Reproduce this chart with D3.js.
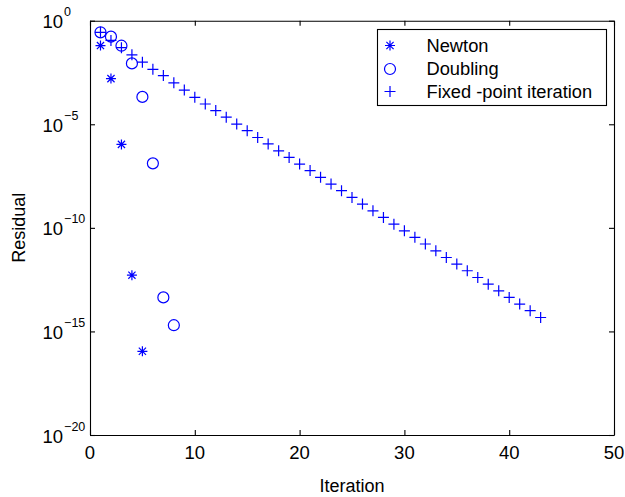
<!DOCTYPE html>
<html><head><meta charset="utf-8">
<script src="https://cdn.jsdelivr.net/npm/d3@7"></script>
<style>body{margin:0;background:#fff}svg{display:block}text{font-family:"Liberation Sans",Arial,sans-serif}</style>
</head><body>
<svg id="c" width="625" height="497"></svg>
<script>
const newtonIter = [1,2,3,4,5];
const newtonRes = [6.3e-2, 1.6e-3, 1.07e-6, 5.2e-13, 1.1e-16];
const doublingIter = [1,2,3,4,5,6,7,8];
const doublingRes = [2.75e-1, 1.7e-1, 6.2e-2, 8.7e-3, 2.1e-4, 1.3e-7, 4.4e-14, 2.0e-15];
const fixedIter = d3.range(1,44);
const fixedRes = [2.75e-1,1.12e-1,5.0e-2,2.24e-2,1.0e-2,4.47e-3,2.24e-3,1.0e-3,4.47e-4,2.0e-4,
  9.5e-5,4.6e-5,2.2e-5,1.02e-5,4.9e-6,2.3e-6,1.12e-6,5.2e-7,2.5e-7,1.2e-7,
  5.8e-8,2.75e-8,1.3e-8,6.2e-9,2.95e-9,1.4e-9,6.6e-10,3.2e-10,1.5e-10,7.2e-11,
  3.5e-11,1.66e-11,7.8e-12,3.7e-12,1.78e-12,8.5e-13,4.0e-13,1.9e-13,9.1e-14,4.4e-14,
  2.1e-14,1.0e-14,4.7e-15];
const xTicks = [0,10,20,30,40,50];
const yTickExp = [0,-5,-10,-15,-20];
const seriesNames = ["Newton","Doubling","Fixed -point iteration"];

const L=90,R=614,T=20.7,B=435;
const svg=d3.select("#c");
const x=d3.scaleLinear().domain([0,50]).range([L,R]);
const y=d3.scaleLog().domain([1e-20,1]).range([B,T]);
const blue="#0000ff";
const ink="#000";

const yTickVals=yTickExp.map(e=>Math.pow(10,e));
function styleAxis(g){g.selectAll("path,line").attr("stroke","#000").attr("stroke-width",1.1);g.selectAll("text").remove();}
svg.append("g").attr("transform",`translate(0,${B})`).call(d3.axisBottom(x).tickValues(xTicks).tickSizeInner(-5).tickSizeOuter(0)).call(styleAxis);
svg.append("g").attr("transform",`translate(0,${T})`).call(d3.axisTop(x).tickValues(xTicks).tickSizeInner(-5).tickSizeOuter(0)).call(styleAxis);
svg.append("g").attr("transform",`translate(${L},0)`).call(d3.axisLeft(y).tickValues(yTickVals).tickSizeInner(-5).tickSizeOuter(0)).call(styleAxis);
svg.append("g").attr("transform",`translate(${R},0)`).call(d3.axisRight(y).tickValues(yTickVals).tickSizeInner(-5).tickSizeOuter(0)).call(styleAxis);

svg.append("g").selectAll("text").data(xTicks).join("text")
  .attr("x",d=>x(d)).attr("y",458.5).attr("text-anchor","middle")
  .attr("font-size",18.5).attr("fill",ink).text(d=>d);
const yl=svg.append("g").selectAll("text").data(yTickExp).join("text")
  .attr("x",42.5).attr("y",d=>y(Math.pow(10,d))+7.5).attr("font-size",18.5).attr("fill",ink);
yl.append("tspan").text("10");
yl.append("tspan").attr("dy",-12).attr("dx",1).attr("font-size",12.5).text(d=>d===0?"0":"\u2212"+(-d));

svg.append("text").attr("x",(L+R)/2).attr("y",491.5).attr("text-anchor","middle").attr("font-size",18).attr("fill",ink).text("Iteration");
svg.append("text").attr("transform",`translate(25,${(T+B)/2}) rotate(-90)`).attr("text-anchor","middle").attr("font-size",18).attr("fill",ink).text("Residual");

const star=s=>{const r=s/2,d=r*0.72;return `M${-r},0L${r},0M0,${-r}L0,${r}M${-d},${-d}L${d},${d}M${-d},${d}L${d},${-d}`;};
const plus=s=>{const r=s/2;return `M${-r},0L${r},0M0,${-r}L0,${r}`;};

const plot=svg.append("g");
plot.selectAll(".fp").data(fixedIter).join("path").attr("class","fp")
  .attr("transform",(d,i)=>`translate(${x(d)},${y(fixedRes[i])})`).attr("d",plus(11))
  .attr("stroke",blue).attr("stroke-width",1.2).attr("fill","none");
plot.selectAll(".db").data(doublingIter).join("circle").attr("class","db")
  .attr("cx",d=>x(d)).attr("cy",(d,i)=>y(doublingRes[i])).attr("r",5.5)
  .attr("stroke",blue).attr("stroke-width",1.2).attr("fill","none");
plot.selectAll(".nt").data(newtonIter).join("path").attr("class","nt")
  .attr("transform",(d,i)=>`translate(${x(d)},${y(newtonRes[i])})`).attr("d",star(10))
  .attr("stroke",blue).attr("stroke-width",1.2).attr("fill","none");

const lg=svg.append("g");
lg.append("rect").attr("x",377.5).attr("y",29.5).attr("width",229).attr("height",76)
  .attr("fill","#fff").attr("stroke","#000").attr("stroke-width",1.1);
const rowsY=[45.5,69,91.5];
seriesNames.forEach((n,i)=>{
  const cy=rowsY[i];
  if(i===0) lg.append("path").attr("transform",`translate(390,${cy})`).attr("d",star(10)).attr("stroke",blue).attr("stroke-width",1.2).attr("fill","none");
  if(i===1) lg.append("circle").attr("cx",390).attr("cy",cy).attr("r",5.5).attr("stroke",blue).attr("stroke-width",1.2).attr("fill","none");
  if(i===2) lg.append("path").attr("transform",`translate(390,${cy})`).attr("d",plus(11)).attr("stroke",blue).attr("stroke-width",1.2).attr("fill","none");
  lg.append("text").attr("x",426.5).attr("y",cy+6.3).attr("font-size",18.3).attr("fill",ink).text(n);
});
</script>
</body></html>
